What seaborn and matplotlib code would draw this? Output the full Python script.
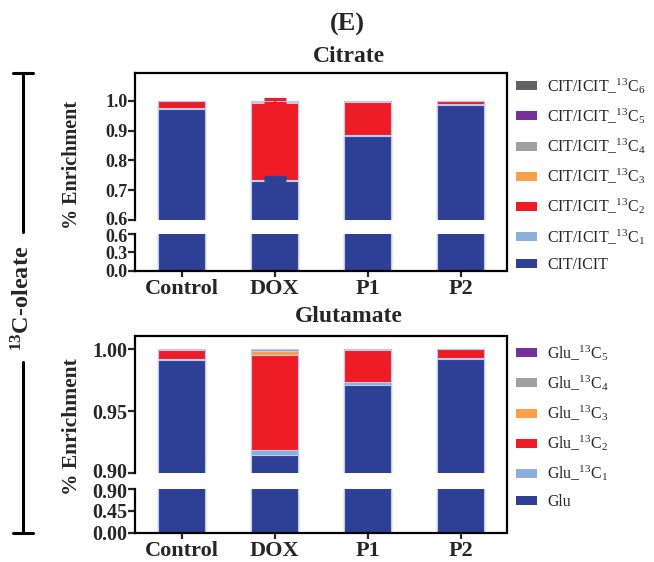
import matplotlib
matplotlib.use("Agg")
import matplotlib.pyplot as plt
from matplotlib.lines import Line2D
from matplotlib.patches import Patch
from matplotlib.transforms import ScaledTranslation
import numpy as np
import seaborn as sb

sb.set_style("white")
plt.rcParams['font.family'] = ['Liberation Serif', 'DejaVu Serif']
plt.rcParams['mathtext.fontset'] = 'custom'
plt.rcParams['mathtext.rm'] = 'Liberation Serif'
plt.rcParams['mathtext.it'] = 'Liberation Serif'
plt.rcParams['mathtext.bf'] = 'Liberation Serif:bold'

cats = ["Control", "DOX", "P1", "P2"]

#Citrate isotopologue fractions
cit_m0 = [0.973, 0.731, 0.883, 0.987]
cit_c1 = [0.001, 0.004, 0.003, 0.001]
cit_c2 = [0.025, 0.257, 0.110, 0.011]
cit_c3 = [0.0005, 0.004, 0.001, 0.0005]
cit_c4 = [0.0005, 0.003, 0.003, 0.0005]
cit_c5 = [0.0, 0.001, 0.0, 0.0]
cit_c6 = [0.0, 0.0, 0.0, 0.0]
cit_err_m0 = [0.0, 0.008, 0.0, 0.0]
cit_err_c2 = [0.0, 0.013, 0.0, 0.0]

#Glutamate isotopologue fractions
glu_m0 = [0.9915, 0.9145, 0.971, 0.992]
glu_c1 = [0.0005, 0.004, 0.0025, 0.0005]
glu_c2 = [0.0075, 0.0765, 0.026, 0.0075]
glu_c3 = [0.0005, 0.003, 0.0005, 0.0]
glu_c4 = [0.0, 0.002, 0.0, 0.0]
glu_c5 = [0.0, 0.0, 0.0, 0.0]

cit_labels = ["CIT/ICIT", r"CIT/ICIT_$^{13}$C$_1$", r"CIT/ICIT_$^{13}$C$_2$", r"CIT/ICIT_$^{13}$C$_3$",
              r"CIT/ICIT_$^{13}$C$_4$", r"CIT/ICIT_$^{13}$C$_5$", r"CIT/ICIT_$^{13}$C$_6$"]
glu_labels = ["Glu", r"Glu_$^{13}$C$_1$", r"Glu_$^{13}$C$_2$", r"Glu_$^{13}$C$_3$",
              r"Glu_$^{13}$C$_4$", r"Glu_$^{13}$C$_5$"]
colors = ["#2e3f96", "#8eaedb", "#ee1c25", "#f9a04a", "#a0a0a4", "#74309b", "#616161"]
edge = "#c3c9ea"

W, H = 654, 562
fig = plt.figure(figsize=(6.54, 5.62), dpi=100)

def px_axes(left, right, top, bottom):
    return fig.add_axes([left/W, 1-bottom/H, (right-left)/W, (bottom-top)/H])

def stack(ax, layers):
    cum = np.cumsum(np.array(layers), axis=0)
    for i in range(len(layers)-1, -1, -1): #draw tallest first so lower layers sit on top
        sb.barplot(x=cats, y=cum[i], color=colors[i], ax=ax, width=0.5, saturation=1,
                   edgecolor=edge, linewidth=0.8, errorbar=None)
    ax.set_xlim(-0.5, 3.5)
    ax.set_xlabel("")
    ax.set_ylabel("")
    return cum

def style_axes(top_ax, bot_ax, ysize, nudge):
    for sp in ["right", "bottom"]:
        top_ax.spines[sp].set_visible(False)
    for sp in ["right", "top"]:
        bot_ax.spines[sp].set_visible(False)
    for a in (top_ax, bot_ax):
        for sp in a.spines.values():
            sp.set_linewidth(1.6)
            sp.set_color("black")
        a.tick_params(axis="y", direction="out", length=5, width=1.6, left=True, labelsize=ysize, pad=0.5)
        for t in a.get_yticklabels():
            t.set_fontweight("bold")
    top_ax.tick_params(axis="x", bottom=False, labelbottom=False)
    bot_ax.tick_params(axis="x", direction="out", length=4, width=1.6, bottom=True, labelsize=16, pad=2)
    for t in bot_ax.get_xticklabels():
        t.set_fontweight("bold")
    #push the two labels at the break apart a little
    lab = top_ax.get_yticklabels()[0]
    lab.set_transform(lab.get_transform() + ScaledTranslation(0, nudge/100, fig.dpi_scale_trans))
    lab = bot_ax.get_yticklabels()[-1]
    lab.set_transform(lab.get_transform() + ScaledTranslation(0, -nudge/100, fig.dpi_scale_trans))

def right_frame(x, top, bottom):
    fig.add_artist(Line2D([x/W, x/W], [1-top/H, 1-bottom/H], color="black", lw=1.6, transform=fig.transFigure))

title_x = (349-135)/372

#---- Citrate ----
cit_layers = [cit_m0, cit_c1, cit_c2, cit_c3, cit_c4, cit_c5, cit_c6]
ax1 = px_axes(135, 507, 73, 220)
ax1b = px_axes(135, 507, 234, 271)
cum = stack(ax1, cit_layers)
stack(ax1b, cit_layers)
ax1.set_ylim(0.6, 1.093)
ax1.set_yticks([0.6, 0.7, 0.8, 0.9, 1.0])
ax1.set_yticklabels(["0.6", "0.7", "0.8", "0.9", "1.0"])
ax1b.set_ylim(0, 0.6)
ax1b.set_yticks([0.0, 0.3, 0.6])
ax1b.set_yticklabels(["0.0", "0.3", "0.6"])
ax1.errorbar([1], [cum[1][1]], yerr=[[0], [cit_err_m0[1]]], color=colors[0], capsize=8, capthick=2.2, elinewidth=1.2, zorder=5)
ax1.errorbar([1], [cum[2][1]], yerr=[[0], [cit_err_c2[1]]], color=colors[2], capsize=8, capthick=2.2, elinewidth=1.2, zorder=5, clip_on=False)
style_axes(ax1, ax1b, 13, 2)
ax1.set_title("Citrate", fontsize=17, fontweight="bold", x=title_x, pad=8)
right_frame(507, 73, 271)

#---- Glutamate ----
glu_layers = [glu_m0, glu_c1, glu_c2, glu_c3, glu_c4, glu_c5]
ax2 = px_axes(135, 507, 336, 473)
ax2b = px_axes(135, 507, 489, 533)
stack(ax2, glu_layers)
stack(ax2b, glu_layers)
ax2.set_ylim(0.90, 1.0105)
ax2.set_yticks([0.90, 0.95, 1.00])
ax2.set_yticklabels(["0.90", "0.95", "1.00"])
ax2b.set_ylim(0, 0.90)
ax2b.set_yticks([0.0, 0.45, 0.90])
ax2b.set_yticklabels(["0.00", "0.45", "0.90"])
style_axes(ax2, ax2b, 14.5, 2)
ax2.set_title("Glutamate", fontsize=17, fontweight="bold", x=title_x, pad=10)
right_frame(507, 336, 533)

#Legends
leg_kw = dict(loc="upper left", frameon=False, fontsize=11.4, handlelength=1.35, handleheight=0.5,
              labelspacing=0.66, handletextpad=0.6, borderpad=0.2)
cit_handles = [Patch(facecolor=colors[i], edgecolor="none") for i in range(len(cit_labels))][::-1]
fig.legend(cit_handles, cit_labels[::-1], bbox_to_anchor=(505/W, 1-65/H), **leg_kw)
glu_handles = [Patch(facecolor=colors[i], edgecolor="none") for i in range(len(glu_labels))][::-1]
fig.legend(glu_handles, glu_labels[::-1], bbox_to_anchor=(505/W, 1-332/H), **leg_kw)

#Text labels
fig.text(347/W, 1-24/H, "(E)", ha="center", va="center", fontsize=19, fontweight="bold")
fig.text(72/W, 1-165/H, "% Enrichment", ha="center", va="center", rotation=90, fontsize=14.5, fontweight="bold")
fig.text(72/W, 1-427/H, "% Enrichment", ha="center", va="center", rotation=90, fontsize=15.5, fontweight="bold")

#Left bracket
bx = 23
for seg in [(73, 232), (362, 533)]:
    fig.add_artist(Line2D([bx/W, bx/W], [1-seg[0]/H, 1-seg[1]/H], color="black", lw=2.2, transform=fig.transFigure))
for yy in (73, 533):
    fig.add_artist(Line2D([13/W, 33/W], [1-yy/H, 1-yy/H], color="black", lw=2.2, transform=fig.transFigure))
fig.text(bx/W, 1-298/H, r"$^{\mathbf{13}}$C-oleate", ha="center", va="center", rotation=90, fontsize=17.5, fontweight="bold")

plt.savefig("out.png", dpi=100)
